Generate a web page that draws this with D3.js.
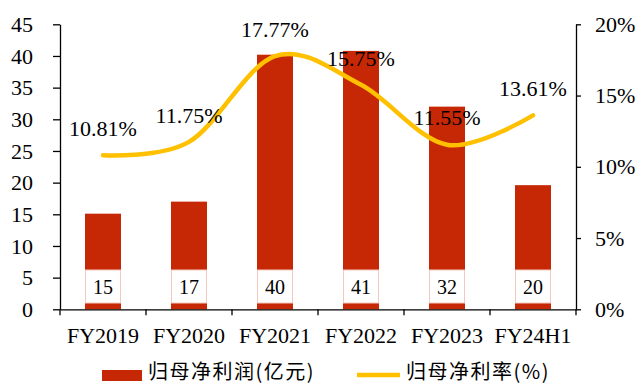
<!DOCTYPE html>
<html><head><meta charset="utf-8">
<script src="https://cdn.jsdelivr.net/npm/d3@7"></script>
<style>body{margin:0;background:#fff}svg{display:block}</style>
</head><body>
<svg id="c" width="641" height="385"></svg>
<script>
const categories = ["FY2019","FY2020","FY2021","FY2022","FY2023","FY24H1"];
const profit = [15.1, 17.0, 40.2, 40.8, 32.0, 19.6];
const profitLabels = ["15","17","40","41","32","20"];
const margin = [10.81, 11.75, 17.77, 15.75, 11.55, 13.61];
const leftTicks = [0,5,10,15,20,25,30,35,40,45];
const rightTicks = [0,5,10,15,20];
const legendLabels = ["归母净利润(亿元)","归母净利率(%)"];

const svg = d3.select("#c");
const L = 60, R = 576, T = 24.3, B = 309.3;
const serif = "'Liberation Serif','Times New Roman',serif";
const cjk = "'Noto Sans CJK SC',sans-serif";
const barColor = "#C62806", lineColor = "#FFC000";

const x = d3.scaleBand().domain(categories).range([L, R]).paddingInner(0).paddingOuter(0);
const yL = d3.scaleLinear().domain([0,45]).range([B, T]);
const yR = d3.scaleLinear().domain([0,20]).range([B, T]);
const bw = 36;

// bars
svg.append("g").selectAll("rect").data(categories).join("rect")
  .attr("x", d => x(d) + x.bandwidth()/2 - bw/2)
  .attr("width", bw)
  .attr("y", (d,i) => yL(profit[i]))
  .attr("height", (d,i) => B - yL(profit[i]))
  .attr("fill", barColor);

// value boxes
const boxes = svg.append("g");
categories.forEach((d,i) => {
  const cx = x(d) + x.bandwidth()/2;
  boxes.append("rect").attr("x", cx - bw/2 + 0.5).attr("y", 270).attr("width", bw - 1).attr("height", 33)
    .attr("fill", "#fff").attr("stroke", "#F3C9C0").attr("stroke-width", 1);
  boxes.append("text").attr("x", cx).attr("y", 287).attr("dy", "0.35em")
    .attr("text-anchor", "middle").attr("font-family", serif).attr("font-size", 20).attr("fill", "#000")
    .text(profitLabels[i]);
});

// axes
const axL = svg.append("g").attr("transform", `translate(${L},0)`)
  .call(d3.axisLeft(yL).tickValues(leftTicks).tickSize(7).tickPadding(20).tickSizeOuter(0));
const axR = svg.append("g").attr("transform", `translate(${R},0)`)
  .call(d3.axisRight(yR).tickValues(rightTicks).tickSize(5).tickPadding(14).tickFormat(d => d + "%").tickSizeOuter(0));
const axB = svg.append("g").attr("transform", `translate(0,${B})`)
  .call(d3.axisBottom(x).tickSize(0).tickPadding(20).tickSizeOuter(0));
// x boundary ticks
svg.append("g").selectAll("line").data(d3.range(categories.length + 1)).join("line")
  .attr("x1", i => L + i * x.step()).attr("x2", i => L + i * x.step())
  .attr("y1", B).attr("y2", B + 6).attr("stroke", "#000").attr("stroke-width", 1.3);

[axL, axR, axB].forEach(g => {
  g.selectAll("path.domain").attr("stroke", "#000").attr("stroke-width", 1.3);
  g.selectAll(".tick line").attr("stroke", "#000").attr("stroke-width", 1.3);
  g.selectAll("text").attr("font-family", serif).attr("font-size", 22).attr("fill", "#000");
});
axB.selectAll("text").attr("dy", "0.35em").attr("y", 26);

// line
const pts = categories.map((d,i) => [x(d) + x.bandwidth()/2, yR(margin[i])]);
svg.append("path").datum(pts)
  .attr("d", d3.line().curve(d3.curveCardinal.tension(0)))
  .attr("fill", "none").attr("stroke", lineColor).attr("stroke-width", 4.5).attr("stroke-linecap", "round");

// line labels
svg.append("g").selectAll("text").data(categories).join("text")
  .attr("x", d => x(d) + x.bandwidth()/2)
  .attr("y", (d,i) => yR(margin[i]) - 27)
  .attr("dy", "0.35em").attr("text-anchor", "middle")
  .attr("font-family", serif).attr("font-size", 22).attr("fill", "#000")
  .text((d,i) => margin[i].toFixed(2) + "%");

// legend
const lg = svg.append("g");
lg.append("rect").attr("x", 102).attr("y", 370).attr("width", 40).attr("height", 11).attr("fill", barColor);
lg.append("text").attr("x", 148).attr("y", 378.5)
  .attr("font-family", cjk).attr("font-size", 20).attr("letter-spacing", 1.5).attr("fill", "#000").text(legendLabels[0]);
lg.append("line").attr("x1", 357).attr("x2", 400).attr("y1", 375).attr("y2", 375)
  .attr("stroke", lineColor).attr("stroke-width", 4.5);
lg.append("text").attr("x", 406).attr("y", 378.5)
  .attr("font-family", cjk).attr("font-size", 20).attr("letter-spacing", 1.5).attr("fill", "#000").text(legendLabels[1]);
</script>
</body></html>
